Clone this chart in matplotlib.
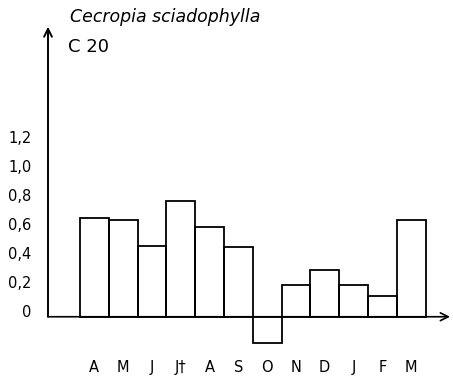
import matplotlib
matplotlib.use("Agg")
import matplotlib.pyplot as plt

months = ["A", "M", "J", "J\u2020", "A", "S", "O", "N", "D", "J", "F", "M"]
values = [0.68, 0.67, 0.49, 0.80, 0.62, 0.48, -0.18, 0.22, 0.32, 0.22, 0.14, 0.67]
ytick_vals = [0, 0.2, 0.4, 0.6, 0.8, 1.0, 1.2]
ytick_labels = ["0", "0,2", "0,4", "0,6", "0,8", "1,0", "1,2"]
title = "Cecropia sciadophylla"
subtitle = "C 20"

W, H = 453, 378
fig = plt.figure(figsize=(W / 100, H / 100), dpi=100)

# axes placement in pixels
left_px, right_px = 48, 450
top_px, bottom_px = 26.75, 353
ax = fig.add_axes([left_px / W, 1 - bottom_px / H, (right_px - left_px) / W, (bottom_px - top_px) / H])

x = list(range(len(values)))
ax.bar(x, values, width=1.0, fill=False, edgecolor="black", linewidth=1.3)

xmin, xmax = -1.611, 12.35
ymin, ymax = -0.25, 2.0
ax.set_xlim(xmin, xmax)
ax.set_ylim(ymin, ymax)

for s in ax.spines.values():
    s.set_visible(False)

# axes with arrows
ax.annotate("", xy=(xmin, ymax), xytext=(xmin, 0),
            arrowprops=dict(arrowstyle="->", lw=1.4, color="black", shrinkA=0, shrinkB=0,
                            mutation_scale=14))
ax.annotate("", xy=(xmax, 0), xytext=(xmin, 0),
            arrowprops=dict(arrowstyle="->", lw=1.2, color="black", shrinkA=0, shrinkB=0,
                            mutation_scale=14))

ax.set_yticks(ytick_vals)
ax.set_yticklabels(ytick_labels, fontsize=10.5)
for lab in ax.get_yticklabels():
    lab.set_verticalalignment("baseline")
ax.tick_params(axis="y", length=0, pad=12)

ax.set_xticks(x)
ax.set_xticklabels(months, fontsize=10.5)
ax.tick_params(axis="x", length=0, pad=5)

fig.text(70 / W, 1 - 16.7 / H, title, fontsize=12.5, style="italic", va="center", ha="left")
fig.text(68 / W, 1 - 47 / H, subtitle, fontsize=13, va="center", ha="left")

fig.savefig("out.png", dpi=100)
